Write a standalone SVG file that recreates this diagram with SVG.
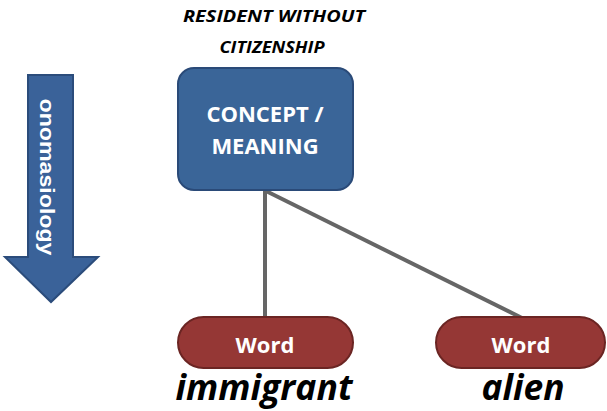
<svg xmlns="http://www.w3.org/2000/svg" width="607" height="411" viewBox="0 0 607 411">
<style>
.hdr{font-family:"Open Sans","Liberation Sans",sans-serif;font-weight:bold;font-style:italic;font-size:16px;fill:#000;text-anchor:middle}
.cpt{font-family:"Open Sans","Liberation Sans",sans-serif;font-weight:bold;font-size:22px;fill:#fff;text-anchor:middle}
.wd{font-family:"Open Sans","Liberation Sans",sans-serif;font-weight:bold;font-size:22px;fill:#fff;text-anchor:middle}
.lex{font-family:"Open Sans","Liberation Sans",sans-serif;font-weight:bold;font-style:italic;font-size:35px;fill:#000;text-anchor:middle}
.pill{fill:#953735;stroke:#6b2523;stroke-width:2}
.conn{stroke:#666;stroke-width:4;fill:none}
</style>
<rect width="607" height="411" fill="#fff"/>
<g id="arrow">
<polygon points="28,75 73,75 73,257 98,257 51,302 5,257 28,257" fill="#3a6299" stroke="#2b4c7b" stroke-width="2"/>
<text transform="translate(40,177) rotate(90)" text-anchor="middle" font-family="'Liberation Sans',Arial,sans-serif" font-weight="bold" font-size="21" fill="#fff" textLength="157" lengthAdjust="spacingAndGlyphs">onomasiology</text>
</g>
<g id="connectors">
<line class="conn" x1="265" y1="190" x2="265" y2="318"/>
<line class="conn" x1="266" y1="191" x2="522" y2="318"/>
</g>
<g id="concept">
<text class="hdr" x="274" y="22" textLength="182" lengthAdjust="spacingAndGlyphs">RESIDENT  WITHOUT</text>
<text class="hdr" x="272" y="53" textLength="105" lengthAdjust="spacingAndGlyphs">CITIZENSHIP</text>
<rect x="178" y="68" width="175" height="122" rx="16" fill="#3a6598" stroke="#2a4a78" stroke-width="2"/>
<text class="cpt" x="265" y="122">CONCEPT /</text>
<text class="cpt" x="265" y="154">MEANING</text>
</g>
<g id="word1">
<rect class="pill" x="178" y="317" width="175" height="51" rx="25.5"/>
<text class="wd" x="265" y="353">Word</text>
<text class="lex" x="264" y="400" textLength="177" lengthAdjust="spacingAndGlyphs">immigrant</text>
</g>
<g id="word2">
<rect class="pill" x="436" y="317" width="169" height="51" rx="25.5"/>
<text class="wd" x="521" y="353">Word</text>
<text class="lex" x="523" y="400" textLength="83" lengthAdjust="spacingAndGlyphs">alien</text>
</g>
</svg>
